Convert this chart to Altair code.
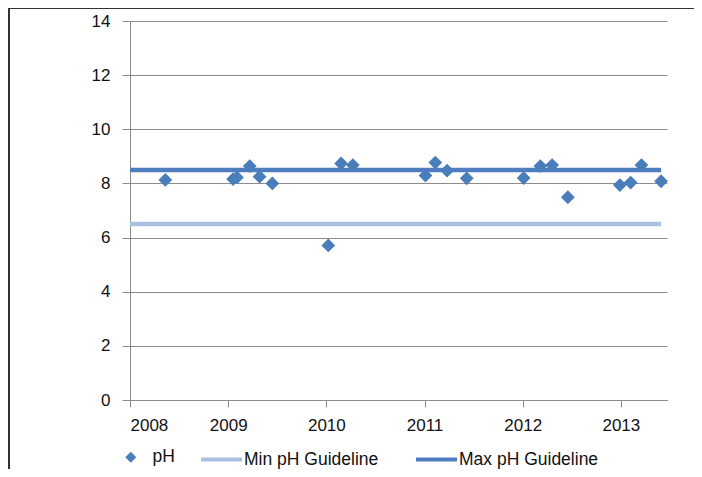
import altair as alt
import pandas as pd

# pH measurements (decimal year, pH)
years = [2008.36, 2009.05, 2009.09, 2009.22, 2009.32, 2009.45,
         2010.02, 2010.15, 2010.27,
         2011.01, 2011.11, 2011.23, 2011.43,
         2012.01, 2012.18, 2012.30, 2012.46,
         2012.99, 2013.10, 2013.21, 2013.41]
ph = [8.13, 8.16, 8.22, 8.64, 8.25, 8.00,
      5.71, 8.74, 8.68,
      8.29, 8.77, 8.47, 8.19,
      8.20, 8.64, 8.68, 7.49,
      7.94, 8.03, 8.68, 8.08]

guide_years = [2008.0, 2013.41]
min_ph = 6.5
max_ph = 8.5

point_name = "pH"
guide_names = ["Min pH Guideline", "Max pH Guideline"]
point_color = "#4a7ebb"
guide_colors = ["#a9c0e0", "#4f7dbf"]
x_ticks = [2008, 2009, 2010, 2011, 2012, 2013]
y_ticks = [0, 2, 4, 6, 8, 10, 12, 14]

pts = pd.DataFrame({"year": years, "value": ph, "series": point_name})
lines = pd.DataFrame({
    "year": guide_years + guide_years,
    "value": [min_ph, min_ph, max_ph, max_ph],
    "series": [guide_names[0]] * 2 + [guide_names[1]] * 2,
})

FONT = "Liberation Sans"

x = alt.X("year:Q",
          scale=alt.Scale(domain=[2008, 2013.47], nice=False, zero=False),
          axis=alt.Axis(values=x_ticks, format="d", grid=False, title=None,
                        tickSize=7, labelPadding=10))
y = alt.Y("value:Q",
          scale=alt.Scale(domain=[0, 14], nice=False),
          axis=alt.Axis(values=y_ticks, title=None, tickSize=8,
                        labelPadding=12, grid=True))

guide_legend = alt.Legend(
    title=None, orient="none", legendX=69, legendY=416,
    direction="horizontal", symbolType="stroke", symbolSize=1681,
    symbolStrokeWidth=4, labelOffset=0, columnPadding=29,
    labelFont=FONT, labelFontSize=17.5, labelColor="#111111",
)
point_legend = alt.Legend(
    title=None, orient="none", legendX=-8, legendY=427.5,
    direction="horizontal", symbolType="diamond", symbolSize=120,
    symbolFillColor=point_color, symbolStrokeWidth=0, symbolOpacity=1,
    labelOffset=13, labelFont=FONT, labelFontSize=17.5, labelColor="#111111",
)

line_layer = alt.Chart(lines).mark_line(strokeWidth=4.5).encode(
    x=x, y=y,
    color=alt.Color("series:N",
                    scale=alt.Scale(domain=guide_names, range=guide_colors),
                    legend=guide_legend))

point_layer = alt.Chart(pts).mark_point(
    shape="diamond", filled=True, size=190, opacity=1, color=point_color).encode(
    x=x, y=y,
    shape=alt.Shape("series:N",
                    scale=alt.Scale(domain=[point_name], range=["diamond"]),
                    legend=point_legend))

# outer chart frame, drawn as thin filled bars (top and left edges only)
frame_top = alt.Chart(pts).mark_rect(color="#333333", strokeWidth=0).encode(
    x=alt.value(-122), x2=alt.value(564), y=alt.value(-14), y2=alt.value(-12))
frame_left = alt.Chart(pts).mark_rect(color="#333333", strokeWidth=0).encode(
    x=alt.value(-122), x2=alt.value(-120.5), y=alt.value(-14), y2=alt.value(448))

chart = alt.layer(line_layer, point_layer, frame_top, frame_left).properties(
    width=537, height=379,
    autosize=alt.AutoSizeParams(type="none"),
    padding={"left": 122, "top": 13, "right": 27, "bottom": 69},
).configure_view(stroke=None).configure_axis(
    labelFont=FONT, labelFontSize=17, labelColor="#111111",
    domainColor="#8c8c8c", tickColor="#8c8c8c", gridColor="#8c8c8c",
    domainWidth=1, tickWidth=1, gridWidth=1,
)

chart.save("out.html", embed_options={"renderer": "svg", "actions": False})
